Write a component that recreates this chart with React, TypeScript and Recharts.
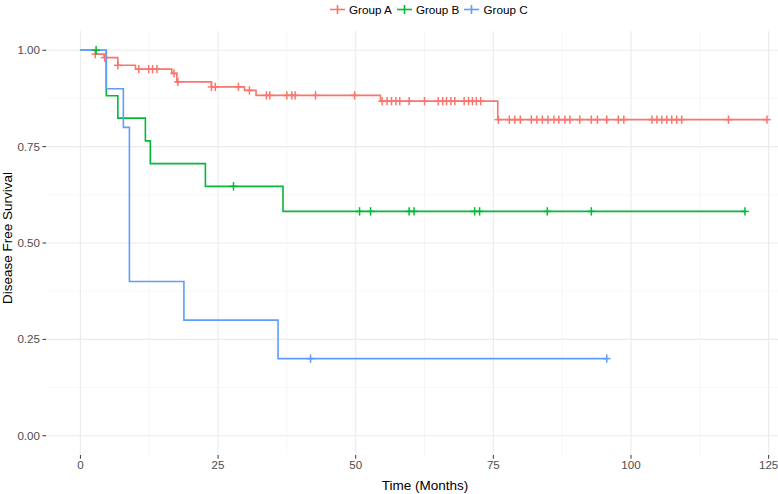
import React from 'react'
import {
  ComposedChart,
  Line,
  Scatter,
  XAxis,
  YAxis,
  CartesianGrid,
  Label,
} from 'recharts'

// Kaplan-Meier steps (time in months, survival probability)
const groupATimes = [0, 2.7, 4.3, 6.8, 10.0, 16.6, 17.5, 23.8, 29.8, 31.9, 54.5, 75.8, 124.7]
const groupASurv = [1, 0.99, 0.981, 0.961, 0.951, 0.94, 0.918, 0.905, 0.896, 0.883, 0.868, 0.82, 0.82]
const groupACensor = [
  2.7, 4.4, 6.8, 10.6, 12.4, 13.1, 13.9, 17.0, 17.7, 23.8, 24.5, 28.7, 30.7, 33.8, 34.4,
  37.5, 38.4, 39.0, 42.7, 49.8, 54.8, 55.7, 56.5, 57.3, 58.0, 59.7, 62.5, 65.0, 65.8, 66.5,
  67.3, 68.0, 69.7, 70.5, 71.2, 71.9, 72.7, 75.9, 77.9, 78.9, 79.9, 81.9, 82.9, 83.9, 84.9,
  86.0, 86.9, 88.0, 88.9, 90.7, 92.8, 93.9, 95.6, 97.7, 98.7, 103.8, 104.7, 105.6, 106.5,
  107.4, 108.3, 109.2, 117.7, 124.7,
]

const groupBTimes = [0, 4.7, 6.8, 11.8, 12.7, 22.7, 36.8, 120.7]
const groupBSurv = [1, 0.882, 0.824, 0.765, 0.706, 0.647, 0.582, 0.582]
const groupBCensor = [2.85, 27.8, 50.7, 52.7, 59.7, 60.6, 71.6, 72.5, 84.8, 92.8, 120.7]

const groupCTimes = [0, 4.7, 7.8, 8.9, 18.8, 35.9, 95.6]
const groupCSurv = [1, 0.9, 0.8, 0.4, 0.3, 0.2, 0.2]
const groupCCensor = [41.8, 95.6]

const xTicks = [0, 25, 50, 75, 100, 125]
const yTicks = [0, 0.25, 0.5, 0.75, 1]
const xMinor = [12.5, 37.5, 62.5, 87.5, 112.5]
const yMinor = [0.125, 0.375, 0.625, 0.875]

const groups = [
  { name: 'Group A', color: '#F8766D', times: groupATimes, surv: groupASurv, censor: groupACensor },
  { name: 'Group B', color: '#00BA38', times: groupBTimes, surv: groupBSurv, censor: groupBCensor },
  { name: 'Group C', color: '#619CFF', times: groupCTimes, surv: groupCSurv, censor: groupCCensor },
]

const font = '"Liberation Sans", Arial, sans-serif'

function toSteps(times: number[], surv: number[]) {
  return times.map((time, i) => ({ time, surv: surv[i] }))
}

// a censored subject sits on the curve at its time
function toCensor(censor: number[], times: number[], surv: number[]) {
  return censor.map((time) => {
    let s = surv[0]
    for (let i = 0; i < times.length; i++) {
      if (times[i] <= time) s = surv[i]
    }
    return { time, surv: s }
  })
}

function PlusMark(props: any) {
  const { cx, cy, fill } = props
  if (cx == null || cy == null) return null
  return (
    <g stroke={fill} strokeWidth={1.5}>
      <line x1={cx - 3.8} y1={cy} x2={cx + 3.8} y2={cy} />
      <line x1={cx} y1={cy - 4.2} x2={cx} y2={cy + 4.2} />
    </g>
  )
}

function KeyLegend() {
  return (
    <div
      style={{
        position: 'absolute',
        top: 1,
        left: 329,
        display: 'flex',
        alignItems: 'center',
        fontFamily: font,
        fontSize: 11.7,
        color: '#000',
      }}
    >
      {groups.map((g) => (
        <div key={g.name} style={{ display: 'flex', alignItems: 'center', marginRight: 4 }}>
          <svg width={17} height={17}>
            <line x1={1} y1={8.5} x2={16} y2={8.5} stroke={g.color} strokeWidth={1.6} />
            <line x1={8.5} y1={4} x2={8.5} y2={13} stroke={g.color} strokeWidth={1.6} />
          </svg>
          <span style={{ marginLeft: 3 }}>{g.name}</span>
        </div>
      ))}
    </div>
  )
}

export default function App() {
  return (
    <div style={{ position: 'absolute', left: 0, top: 0, width: 778, height: 494, background: '#fff' }}>
      <ComposedChart
        width={778}
        height={494}
        margin={{ top: 31, right: 0, bottom: 0, left: 0 }}
        style={{ fontFamily: font }}
      >
        <CartesianGrid
          stroke="#F2F2F2"
          strokeWidth={0.6}
          horizontalValues={yMinor}
          verticalValues={xMinor}
        />
        <CartesianGrid
          stroke="#EBEBEB"
          strokeWidth={1.1}
          horizontalValues={yTicks}
          verticalValues={xTicks}
        />
        <XAxis
          type="number"
          dataKey="time"
          domain={[-6.25, 126.7]}
          allowDataOverflow
          ticks={xTicks}
          height={39}
          axisLine={false}
          tickLine={{ stroke: '#333333' }}
          tickSize={3.7}
          tickMargin={2}
          tick={{ fill: '#4D4D4D', fontSize: 11.6 }}
        >
          <Label
            value="Time (Months)"
            position="insideBottom"
            offset={4}
            dx={13}
            style={{ fill: '#000', fontSize: 13.5 }}
          />
        </XAxis>
        <YAxis
          type="number"
          dataKey="surv"
          domain={[-0.05, 1.05]}
          allowDataOverflow
          ticks={yTicks}
          width={46}
          axisLine={false}
          tickLine={{ stroke: '#333333' }}
          tickSize={3.5}
          tickMargin={2.5}
          tickFormatter={(v: number) => v.toFixed(2)}
          tick={{ fill: '#4D4D4D', fontSize: 11.6 }}
        >
          <Label
            value="Disease Free Survival"
            angle={-90}
            position="insideLeft"
            offset={0}
            dx={7.5}
            dy={-5}
            style={{ fill: '#000', fontSize: 13.5, textAnchor: 'middle' }}
          />
        </YAxis>
        {groups.map((g) => (
          <Line
            key={g.name + '-line'}
            data={toSteps(g.times, g.surv)}
            dataKey="surv"
            type="stepAfter"
            stroke={g.color}
            strokeWidth={1.6}
            dot={false}
            activeDot={false}
            isAnimationActive={false}
          />
        ))}
        {groups.map((g) => (
          <Scatter
            key={g.name + '-censor'}
            data={toCensor(g.censor, g.times, g.surv)}
            dataKey="surv"
            fill={g.color}
            shape={PlusMark}
            isAnimationActive={false}
          />
        ))}
      </ComposedChart>
      <KeyLegend />
    </div>
  )
}
